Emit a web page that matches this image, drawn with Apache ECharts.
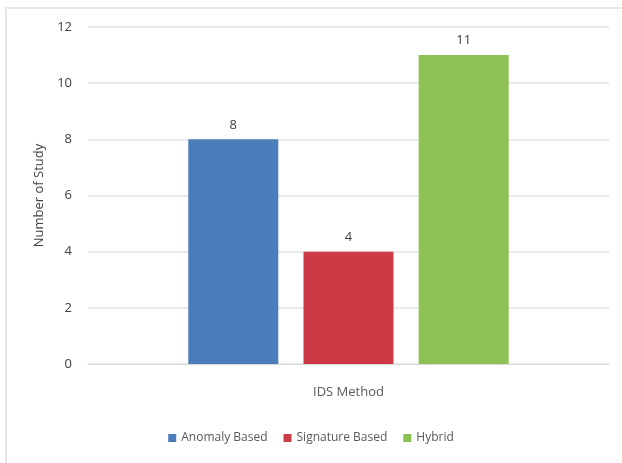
<!DOCTYPE html>
<html>
<head>
<meta charset="utf-8">
<script src="https://cdn.jsdelivr.net/npm/echarts@6/dist/echarts.min.js"></script>
<style>
  html, body { margin: 0; padding: 0; background: #fff; }
  #main { width: 622px; height: 463px; }
</style>
</head>
<body>
<div id="main"></div>
<script>
var categories = ['IDS Method'];
var seriesNames = ['Anomaly Based', 'Signature Based', 'Hybrid'];
var anomalyValues = [8];
var signatureValues = [4];
var hybridValues = [11];
var yTicks = [0, 2, 4, 6, 8, 10, 12];

var colors = ['#4a7ebb', '#cd3a46', '#8dc153'];
var font = '"Open Sans", "Liberation Sans", sans-serif';

function makeSeries(name, data, color) {
    return {
        name: name,
        type: 'bar',
        data: data,
        barWidth: 90,
        barGap: '28%',
        itemStyle: { color: color },
        label: {
            show: true,
            position: 'top',
            distance: 8,
            color: '#404040',
            fontSize: 13,
            fontFamily: font
        }
    };
}

var chart = echarts.init(document.getElementById('main'));
chart.setOption({
    animation: false,
    graphic: [{
        type: 'rect',
        shape: { x: 6, y: 8, width: 640, height: 480 },
        style: { fill: 'none', stroke: '#e6e6e6', lineWidth: 2 },
        silent: true
    }],
    grid: { left: 88, right: 13, top: 27, bottom: 99 },
    legend: {
        data: seriesNames,
        bottom: 14,
        left: 'center',
        icon: 'rect',
        itemWidth: 8,
        itemHeight: 8,
        itemGap: 16,
        textStyle: { color: '#595959', fontSize: 12, fontFamily: font }
    },
    xAxis: {
        type: 'category',
        data: categories,
        axisTick: { show: false },
        axisLine: { lineStyle: { color: '#d9d9d9', width: 1 } },
        axisLabel: { color: '#595959', fontSize: 13, fontFamily: font, margin: 22 }
    },
    yAxis: {
        type: 'value',
        min: yTicks[0],
        max: yTicks[yTicks.length - 1],
        interval: 2,
        name: 'Number of Study',
        nameLocation: 'middle',
        nameGap: 38,
        nameTextStyle: { color: '#404040', fontSize: 13, fontFamily: font },
        axisLine: { show: false },
        axisTick: { show: false },
        axisLabel: { color: '#404040', fontSize: 13, fontFamily: font, margin: 16 },
        splitLine: { lineStyle: { color: '#e3e3e3', width: 1.5 } }
    },
    series: [
        makeSeries(seriesNames[0], anomalyValues, colors[0]),
        makeSeries(seriesNames[1], signatureValues, colors[1]),
        makeSeries(seriesNames[2], hybridValues, colors[2])
    ]
});
</script>
</body>
</html>
